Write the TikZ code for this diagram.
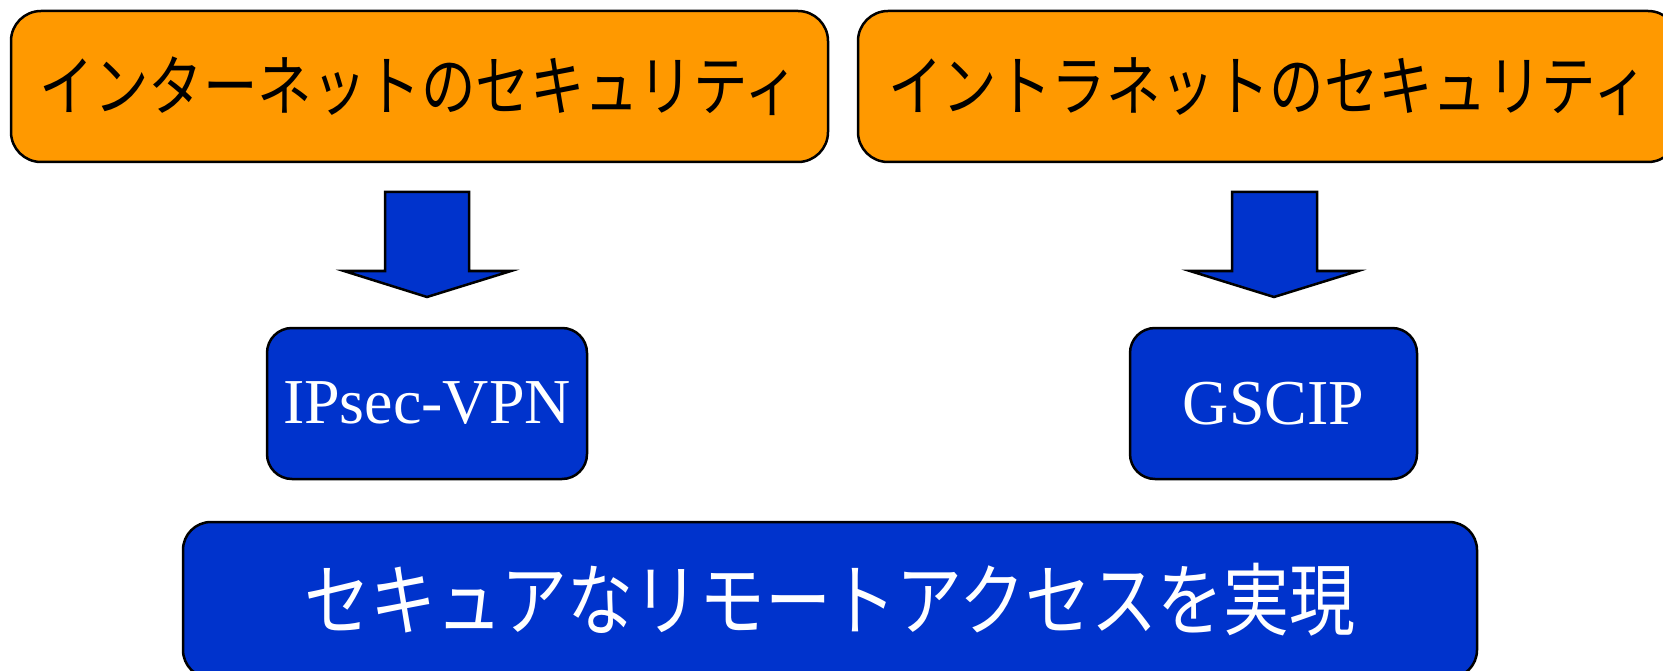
\documentclass[tikz,border=0pt]{standalone}
\usepackage{fontspec}
\setmainfont{Liberation Serif}
\newfontfamily\cjkA[FakeStretch=0.825]{Noto Sans CJK JP}
\newfontfamily\cjkB[FakeStretch=0.835]{Noto Sans CJK JP}
\definecolor{boxorange}{RGB}{255,153,0}
\definecolor{boxblue}{RGB}{0,51,204}
\begin{document}
\begin{tikzpicture}[x=1pt,y=-1pt,
  orangebox/.style={draw=black, line width=2.5pt, fill=boxorange, rounded corners=30pt, inner sep=0pt, text=black, font=\cjkA\fontsize{66}{70}\selectfont},
  bluebox/.style={draw=black, line width=2.5pt, fill=boxblue, rounded corners=25pt, inner sep=0pt, text=white},
  blockarrow/.style={draw=black, line width=2.5pt, fill=boxblue, line join=miter}]
\useasboundingbox (0,0) rectangle (1663,671);
\clip (0,0) rectangle (1663,671);
\node[orangebox, minimum width=817pt, minimum height=151pt] (inet) at (419.5,86.5) {インターネットのセキュリティ};
\node[orangebox, minimum width=820pt, minimum height=151pt] (intra) at (1268,86.5) {イントラネットのセキュリティ};
\node[bluebox, minimum width=320pt, minimum height=151pt, font=\fontsize{64}{68}\selectfont] (ipsec) at (427,403.5) {IPsec-VPN};
\node[bluebox, minimum width=287pt, minimum height=151pt, font=\fontsize{64}{68}\selectfont] (gscip) at (1273.5,403.5) {GSCIP};
\node[bluebox, rounded corners=28pt, minimum width=1294pt, minimum height=156pt, font=\cjkB\fontsize{79}{84}\selectfont] (remote) at (830,600) {セキュアなリモートアクセスを実現};
\draw[blockarrow] (385,192) -- (469,192) -- (469,271) -- (511,271) -- (427,297) -- (344,271) -- (385,271) -- cycle;
\draw[blockarrow] (1232,192) -- (1317,192) -- (1317,271) -- (1358,271) -- (1274,297) -- (1190,271) -- (1232,271) -- cycle;
\end{tikzpicture}
\end{document}
